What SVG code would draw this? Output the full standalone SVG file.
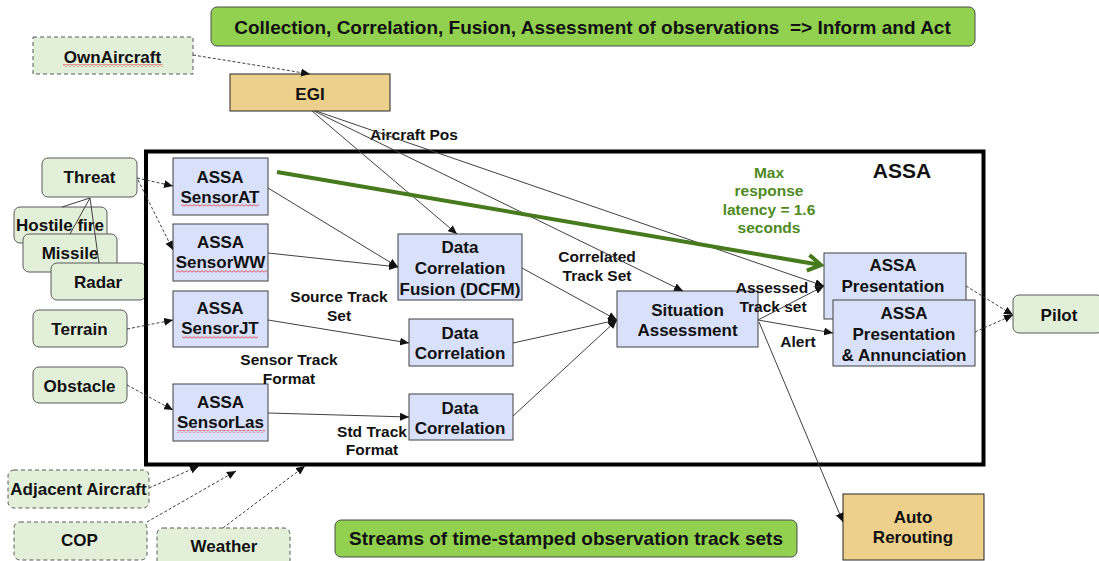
<svg xmlns="http://www.w3.org/2000/svg" width="1099" height="561" viewBox="0 0 1099 561">
<defs>
<style>
text{font-family:"Liberation Sans",Arial,sans-serif;font-weight:bold;text-anchor:middle;fill:#111}
.n{font-size:17px}
.lbl{font-size:15.5px}
.big{font-size:19px}
.g{fill:#E2EFD9;stroke:#595959;stroke-width:1}
.gd{fill:#E2EFD9;stroke:#595959;stroke-width:1;stroke-dasharray:4 3}
.b{fill:#D8E0FA;stroke:#404040;stroke-width:1}
.t{fill:#ECD08B;stroke:#262626;stroke-width:1}
.ban{fill:#92D050;stroke:#4d4d4d;stroke-width:1}
.c{fill:none;stroke:#404040;stroke-width:1;marker-end:url(#ah)}
.cd{fill:none;stroke:#404040;stroke-width:1;stroke-dasharray:3 2;marker-end:url(#ah)}
.ln{fill:none;stroke:#404040;stroke-width:1}
.sq{fill:url(#sq)}
.grn{fill:#4E8A1E}
</style>
<marker id="ah" markerUnits="userSpaceOnUse" markerWidth="10" markerHeight="8" refX="9" refY="4" orient="auto">
<path d="M0,0 L9,4 L0,8 z" fill="#111"/>
</marker>
<marker id="gah" markerUnits="userSpaceOnUse" markerWidth="24" markerHeight="24" refX="14" refY="9" orient="auto" overflow="visible">
<path d="M1,1 L14,9 L1,17" fill="none" stroke="#467A1C" stroke-width="4"/>
</marker>
<pattern id="sq" width="4" height="3" patternUnits="userSpaceOnUse">
<path d="M0,2.2 L2,0.6 L4,2.2" fill="none" stroke="#E03A3A" stroke-width="0.8"/>
</pattern>
</defs>
<rect width="1099" height="561" fill="#fff"/>

<g id="banner-top">
<rect class="ban" x="211" y="7" width="764" height="39" rx="6"/>
<text class="big" x="592.5" y="33.5" xml:space="preserve">Collection, Correlation, Fusion, Assessment of observations  =&gt; Inform and Act</text>
</g>
<g id="ownaircraft">
<rect class="gd" x="33" y="37" width="160" height="37"/>
<text class="n" x="112.5" y="62.5">OwnAircraft</text>
<rect class="sq" x="63" y="64" width="100" height="3"/>
</g>
<g id="egi">
<rect class="t" x="230" y="74" width="160" height="37"/>
<text class="n" x="310" y="99.5">EGI</text>
</g>

<g id="threat">
<rect class="g" x="42" y="158" width="95" height="39" rx="6"/>
<text class="n" x="89.5" y="183">Threat</text>
</g>
<g id="hostile-fire">
<rect class="g" x="14" y="207" width="93" height="36" rx="6"/>
<text class="n" x="60" y="231">Hostile fire</text>
</g>
<g id="missile">
<rect class="g" x="23" y="234" width="94" height="38" rx="6"/>
<text class="n" x="70" y="259">Missile</text>
</g>
<g id="radar">
<rect class="g" x="51" y="263" width="95" height="37" rx="6"/>
<text class="n" x="98" y="288">Radar</text>
</g>
<g id="terrain">
<rect class="g" x="33" y="310" width="94" height="37" rx="6"/>
<text class="n" x="79.5" y="335">Terrain</text>
</g>
<g id="obstacle">
<rect class="g" x="33" y="367" width="94" height="36" rx="6"/>
<text class="n" x="79.5" y="391.5">Obstacle</text>
</g>

<g id="assa-frame">
<rect x="146" y="151.5" width="837.5" height="313" fill="none" stroke="#000" stroke-width="4"/>
<text x="902" y="178.3" style="font-size:21px">ASSA</text>
</g>

<g id="sensor-at">
<rect class="b" x="173" y="158" width="95" height="57"/>
<text class="n" x="220" y="182.5">ASSA</text>
<text class="n" x="220" y="203">SensorAT</text>
<rect class="sq" x="181" y="204" width="78" height="3"/>
</g>
<g id="sensor-ww">
<rect class="b" x="173" y="224" width="95" height="57"/>
<text class="n" x="220.5" y="248.3">ASSA</text>
<text class="n" x="220.5" y="268.3">SensorWW</text>
<rect class="sq" x="176" y="270" width="91" height="3"/>
</g>
<g id="sensor-jt">
<rect class="b" x="173" y="291" width="95" height="56"/>
<text class="n" x="220" y="314.3">ASSA</text>
<text class="n" x="220" y="334.3">SensorJT</text>
<rect class="sq" x="182" y="336" width="76" height="3"/>
</g>
<g id="sensor-las">
<rect class="b" x="173" y="384" width="95" height="57"/>
<text class="n" x="220.5" y="408.3">ASSA</text>
<text class="n" x="220.5" y="428.3">SensorLas</text>
<rect class="sq" x="177" y="430" width="88" height="3"/>
</g>

<g id="dcfm">
<rect class="b" x="398" y="234" width="124" height="66"/>
<text class="n" x="460" y="253.3">Data</text>
<text class="n" x="460" y="274">Correlation</text>
<text class="n" x="460" y="295">Fusion (DCFM)</text>
</g>
<g id="data-correlation-1">
<rect class="b" x="409" y="319" width="104" height="47"/>
<text class="n" x="460" y="339">Data</text>
<text class="n" x="460" y="359.3">Correlation</text>
</g>
<g id="data-correlation-2">
<rect class="b" x="409" y="394" width="104" height="46"/>
<text class="n" x="460" y="414">Data</text>
<text class="n" x="460" y="434.3">Correlation</text>
</g>
<g id="situation-assessment">
<rect class="b" x="617" y="291" width="141" height="56"/>
<text class="n" x="687.5" y="315.7">Situation</text>
<text class="n" x="687.5" y="335.7">Assessment</text>
</g>
<g id="assa-presentation">
<rect class="b" x="824" y="253" width="142" height="66"/>
<text class="n" x="893" y="270.7">ASSA</text>
<text class="n" x="893" y="291.7">Presentation</text>
</g>
<g id="assa-presentation-annunciation">
<rect class="b" x="833" y="300" width="142" height="66"/>
<text class="n" x="904" y="319">ASSA</text>
<text class="n" x="904" y="340">Presentation</text>
<text class="n" x="904" y="360.7">&amp; Annunciation</text>
</g>
<g id="pilot">
<rect class="g" x="1013" y="295" width="90" height="38" rx="6"/>
<text class="n" x="1059" y="320.7">Pilot</text>
</g>
<g id="auto-rerouting">
<rect class="t" x="843" y="494" width="141" height="66"/>
<text class="n" x="913" y="523.3">Auto</text>
<text class="n" x="913" y="543.3">Rerouting</text>
</g>
<g id="adjacent-aircraft">
<rect class="gd" x="8" y="470" width="141" height="38" rx="6"/>
<text class="n" x="78.5" y="495">Adjacent Aircraft</text>
</g>
<g id="cop">
<rect class="gd" x="14" y="522" width="133" height="38" rx="6"/>
<text class="n" x="79.5" y="545.7">COP</text>
</g>
<g id="weather">
<rect class="gd" x="157" y="528" width="133" height="38" rx="6"/>
<text class="n" x="224" y="552.3">Weather</text>
</g>
<g id="banner-bottom">
<rect class="ban" x="335" y="520" width="462" height="37" rx="6"/>
<text class="big" x="566" y="545">Streams of time-stamped observation track sets</text>
</g>

<g id="labels">
<text class="lbl" x="414" y="140">Aircraft Pos</text>
<text class="lbl" x="339" y="301.7">Source Track</text>
<text class="lbl" x="339" y="320.7">Set</text>
<text class="lbl" x="289" y="365">Sensor Track</text>
<text class="lbl" x="289" y="383.5">Format</text>
<text class="lbl" x="372" y="436.7">Std Track</text>
<text class="lbl" x="372" y="455">Format</text>
<text class="lbl" x="597" y="261.7">Correlated</text>
<text class="lbl" x="597" y="280.7">Track Set</text>
<text class="lbl" x="772" y="292.7">Assessed</text>
<text class="lbl" x="773" y="311.7">Track set</text>
<text class="lbl" x="798" y="346.7">Alert</text>
<text class="lbl grn" x="769" y="177.7">Max</text>
<text class="lbl grn" x="769" y="196">response</text>
<text class="lbl grn" x="769" y="214.8">latency = 1.6</text>
<text class="lbl grn" x="769" y="233.3">seconds</text>
</g>

<g id="connectors">
<path class="cd" d="M193,55 L310,74"/>
<path class="c" d="M312,111 L457,234"/>
<path class="c" d="M314,111 L683,291"/>
<path class="c" d="M316,111 L824,286"/>
<path class="cd" d="M137,178 L173,186"/>
<path class="cd" d="M138,180 L173,250"/>
<path class="cd" d="M127,329 L173,320"/>
<path class="cd" d="M127,385 L173,410"/>
<path class="ln" d="M90,198 L62,207"/>
<path class="ln" d="M90,198 L70,234"/>
<path class="ln" d="M90,198 L99,263"/>
<path class="c" d="M268,188 L398,267"/>
<path class="c" d="M268,253 L398,267"/>
<path class="c" d="M268,320 L409,343"/>
<path class="c" d="M268,413 L409,417"/>
<path class="c" d="M522,268 L617,320"/>
<path class="c" d="M513,343 L617,320"/>
<path class="c" d="M513,416 L617,320"/>
<path class="c" d="M758,320 L824,286"/>
<path class="c" d="M758,320 L833,333"/>
<path class="c" d="M759,322 L843,522"/>
<path class="cd" d="M966,286 L1013,315"/>
<path class="cd" d="M975,332 L1013,315"/>
<path class="cd" d="M149,488 L199,466"/>
<path class="cd" d="M147,522 L236,471"/>
<path class="cd" d="M223,528 L305,466"/>
<path d="M277,172 L821,265" fill="none" stroke="#467A1C" stroke-width="4" marker-end="url(#gah)"/>
</g>
</svg>
